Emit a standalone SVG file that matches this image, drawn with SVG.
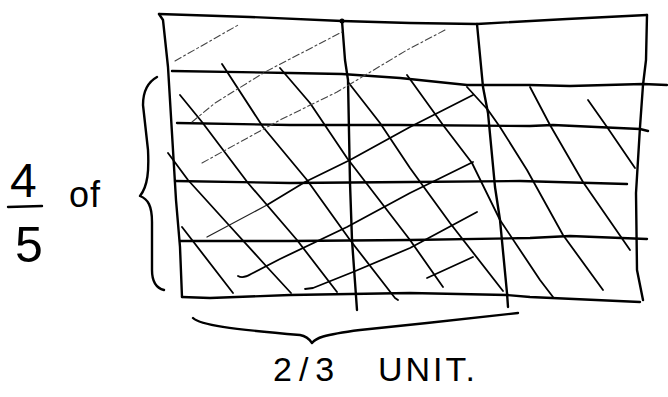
<svg xmlns="http://www.w3.org/2000/svg" width="668" height="397" viewBox="0 0 668 397">
<style>
  .edge{fill:none;stroke:#000;stroke-width:2.4;stroke-linecap:round;stroke-linejoin:round}
  .hatch{fill:none;stroke:#000;stroke-width:1.8;stroke-linecap:round;stroke-linejoin:round}
  .thin{fill:none;stroke:#222;stroke-width:1.3;stroke-linecap:round;stroke-linejoin:round}
  .light{fill:none;stroke:#444;stroke-width:1.1;stroke-dasharray:7 3 2 3;stroke-linecap:round}
  .hand{font-family:"Liberation Sans","DejaVu Sans",sans-serif;fill:#000}
</style>
<rect width="668" height="397" fill="#fff"/>
<g id="grid">
  <path class="edge" d="M159,14 L250,17 L342,21 L410,23 L477,24 L567,19 L647,15"/>
  <path class="edge" d="M159,14 L163,20 L168,67 L176,200 L180,247 L182,297"/>
  <path class="edge" d="M182,297 L210,298 L290,295 L410,293 L507,295 L530,297 L640,302"/>
  <path class="edge" d="M647,15 L646,60 L643,85 L640,127 L636,193 L637,270 L643,300"/>
  <path class="edge" d="M172,71 L290,73 L342,74 L400,78 L467,85 L530,85 L570,86 L643,84 L667,85"/>
  <path class="edge" d="M177,123 L290,125 L400,125 L530,126 L553,125 L640,129 L648,131"/>
  <path class="edge" d="M175,181 L290,183 L410,182 L520,181 L627,184"/>
  <path class="edge" d="M180,241 L290,241 L410,240 L530,238 L570,236 L647,239"/>
  <path class="edge" d="M342,21 L345,60 L348,80 L350,183 L352,240 L357,310"/>
  <path class="edge" d="M477,24 L483,87 L488,113 L495,187 L500,220 L507,293 L508,307"/>
  <circle cx="342" cy="21" r="2.5" fill="#000"/>
</g>
<g id="hatching">
  <path class="hatch" d="M182,227 L233,293"/>
  <path class="hatch" d="M168,153 L188,180 L227,223 L267,267 L291,293"/>
  <path class="hatch" d="M180,95 L202,122 L248,183 L297,240 L337,292"/>
  <path class="hatch" d="M222,64 L263,127 L307,180 L350,240 L395,298 L398,300"/>
  <path class="hatch" d="M280,68 L310,103 L347,158 L410,240 L443,287"/>
  <path class="hatch" d="M348,82 L380,123 L410,168 L450,223 L503,291"/>
  <path class="hatch" d="M407,75 L443,125 L472,163 L500,220 L540,280 L553,297"/>
  <path class="hatch" d="M467,87 L488,110 L500,127 L527,170 L563,235 L603,290"/>
  <path class="hatch" d="M530,87 L550,125 L583,182 L630,250"/>
  <path class="hatch" d="M588,100 L607,127 L635,168"/>
  <path class="thin" d="M207,237 L267,205"/>
  <path class="hatch" d="M267,205 L305,182 L350,160 L410,127 L473,95"/>
  <path class="hatch" d="M238,276 Q243,279 251,274 L280,259 L347,227 L410,193 L473,162"/>
  <path class="hatch" d="M305,289 L313,288 L353,272 L410,248 L477,212"/>
  <path class="hatch" d="M427,278 L473,257"/>
  <path class="light" d="M175,61 L240,24"/>
  <path class="light" d="M192,122 L215,103 L265,72 L342,32"/>
  <path class="light" d="M202,163 L280,120 L337,92 L407,50 L447,29"/>
</g>
<g id="braces">
  <path class="edge" d="M157,77 C148,82 143,92 143,105 L148,150 C149,170 148,186 140,196 C148,199 152,206 152,222 L152,270 C152,282 156,288 164,290"/>
  <path class="edge" d="M193,318 C200,325 230,329 300,335 C306,336 310,340 312,343 C316,338 322,335 360,330 L427,323 L518,313"/>
</g>
<g id="labels">
  <text class="hand" x="10" y="197" font-size="48">4</text>
  <path class="edge" d="M8,207 L42,206"/>
  <text class="hand" x="15" y="262" font-size="50">5</text>
  <text class="hand" x="69" y="207" font-size="36" letter-spacing="1">of</text>
  <text class="hand" font-size="34"><tspan x="273" y="381" letter-spacing="7">2/3</tspan><tspan x="378" y="381" letter-spacing="3">UNIT.</tspan></text>
</g>
</svg>
